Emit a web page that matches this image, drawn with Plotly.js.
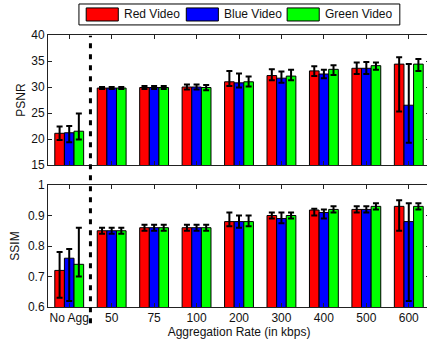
<!DOCTYPE html>
<html>
<head>
<meta charset="utf-8">
<script src="https://cdn.plot.ly/plotly-3.0.1.min.js"></script>
<style>
html,body{margin:0;padding:0;overflow:hidden;background:#fff;}
#chart{width:440px;height:343px;}
</style>
</head>
<body>
<div id="chart"></div>
<script>
// ---- data ----
const categories = ["No Agg", "50", "75", "100", "200", "300", "400", "500", "600"];
const seriesNames = ["Red Video", "Blue Video", "Green Video"];
const seriesColors = ["#ff0000", "#0000ff", "#00ff00"];

// PSNR means and error extents (plus / minus)
const psnrRed       = [21.1, 29.8, 29.9, 30.0, 31.0, 32.2, 33.1, 33.6, 34.4];
const psnrRedPlus   = [1.3, 0.2, 0.3, 0.5, 2.1, 1.2, 0.9, 1.1, 1.3];
const psnrRedMinus  = [1.3, 0.2, 0.3, 0.5, 0.8, 0.9, 1.0, 1.1, 9.1];
const psnrBlue      = [21.2, 29.8, 29.9, 30.0, 30.8, 31.7, 32.5, 33.6, 26.5];
const psnrBluePlus  = [1.3, 0.2, 0.3, 0.5, 1.8, 1.3, 0.8, 1.2, 7.9];
const psnrBlueMinus = [1.8, 0.2, 0.3, 0.5, 0.9, 0.9, 0.8, 1.1, 7.2];
const psnrGreen      = [21.5, 29.8, 29.9, 29.9, 31.0, 32.1, 33.4, 34.1, 34.4];
const psnrGreenPlus  = [3.4, 0.2, 0.3, 0.5, 1.0, 1.2, 0.8, 0.6, 1.0];
const psnrGreenMinus = [1.6, 0.2, 0.3, 0.5, 0.9, 0.8, 1.1, 0.8, 1.3];

// SSIM means and error extents
const ssimRed       = [0.72, 0.85, 0.86, 0.86, 0.88, 0.90, 0.918, 0.92, 0.93];
const ssimRedPlus   = [0.06, 0.01, 0.01, 0.01, 0.03, 0.01, 0.004, 0.01, 0.02];
const ssimRedMinus  = [0.09, 0.01, 0.01, 0.01, 0.015, 0.01, 0.018, 0.01, 0.08];
const ssimBlue      = [0.76, 0.85, 0.86, 0.86, 0.88, 0.89, 0.91, 0.92, 0.88];
const ssimBluePlus  = [0.03, 0.01, 0.01, 0.01, 0.02, 0.02, 0.01, 0.01, 0.06];
const ssimBlueMinus = [0.14, 0.01, 0.01, 0.01, 0.02, 0.015, 0.02, 0.01, 0.26];
const ssimGreen      = [0.74, 0.85, 0.86, 0.86, 0.88, 0.90, 0.92, 0.93, 0.93];
const ssimGreenPlus  = [0.12, 0.01, 0.01, 0.01, 0.02, 0.01, 0.01, 0.01, 0.01];
const ssimGreenMinus = [0.04, 0.01, 0.01, 0.01, 0.015, 0.01, 0.01, 0.01, 0.01];

const psnrTicks = [15, 20, 25, 30, 35, 40];
const ssimTicks = [0.6, 0.7, 0.8, 0.9, 1];

// ---- build traces ----
const psnrSets = [[psnrRed, psnrRedPlus, psnrRedMinus], [psnrBlue, psnrBluePlus, psnrBlueMinus], [psnrGreen, psnrGreenPlus, psnrGreenMinus]];
const ssimSets = [[ssimRed, ssimRedPlus, ssimRedMinus], [ssimBlue, ssimBluePlus, ssimBlueMinus], [ssimGreen, ssimGreenPlus, ssimGreenMinus]];

function barTrace(set, i, xa, ya) {
  return {
    type: "bar", x: categories, y: set[0], name: seriesNames[i],
    xaxis: xa, yaxis: ya, showlegend: false,
    marker: {color: seriesColors[i], line: {color: "#000", width: 1}},
    error_y: {type: "data", symmetric: false, array: set[1], arrayminus: set[2],
              color: "#000", thickness: 2, width: 3},
    hoverinfo: "skip"
  };
}
const data = [];
psnrSets.forEach((s, i) => data.push(barTrace(s, i, "x", "y")));
ssimSets.forEach((s, i) => data.push(barTrace(s, i, "x2", "y2")));

const font = {family: "Liberation Sans, Arial, sans-serif", size: 12, color: "#111"};
const axCommon = {
  showline: true, linecolor: "#222", linewidth: 1, mirror: "ticks",
  ticks: "inside", ticklen: 4, tickcolor: "#222",
  showgrid: false, zeroline: false, tickfont: font
};

// legend drawn as shapes + text (MATLAB-style wide patches)
const legendShapes = [
  {type: "rect", xref: "paper", yref: "paper", x0: 0.081, x1: 0.921, y0: 1.037, y1: 1.114,
   line: {color: "#000", width: 1}, fillcolor: "#fff", layer: "above"}
];
const patchX = [0.1, 0.362, 0.626];
const legendAnn = [];
seriesNames.forEach((n, i) => {
  legendShapes.push({type: "rect", xref: "paper", yref: "paper",
    x0: patchX[i], x1: patchX[i] + 0.084, y0: 1.0515, y1: 1.0995,
    line: {color: "#000", width: 1}, fillcolor: seriesColors[i], layer: "above"});
  legendAnn.push({xref: "paper", yref: "paper", x: patchX[i] + 0.093, y: 1.0755,
    xanchor: "left", yanchor: "middle", text: n, showarrow: false, font: font});
});

// dashed separator between "No Agg" and the aggregation rates
legendShapes.push({type: "line", xref: "x", yref: "paper", x0: 0.5, x1: 0.5, y0: -0.06, y1: 0.997,
  line: {color: "#000", width: 3, dash: "5px,6px"}, layer: "above"});

const layout = {
  width: 440, height: 343,
  margin: {l: 48, r: 10, t: 35, b: 36},
  paper_bgcolor: "#fff", plot_bgcolor: "#fff",
  font: font,
  barmode: "group", bargap: 0.32, bargroupgap: 0,
  showlegend: false,
  xaxis: Object.assign({}, axCommon, {anchor: "y", domain: [0, 1], type: "category",
    range: [-0.5, 8.5], showticklabels: false}),
  yaxis: Object.assign({}, axCommon, {anchor: "x", domain: [0.522, 1], range: [15, 40],
    tickvals: psnrTicks, title: {text: "PSNR", font: font, standoff: 3}}),
  xaxis2: Object.assign({}, axCommon, {anchor: "y2", domain: [0, 1], type: "category",
    range: [-0.5, 8.5], tickvals: categories, title: {text: "Aggregation Rate (in kbps)", font: font, standoff: 2}}),
  yaxis2: Object.assign({}, axCommon, {anchor: "x2", domain: [0, 0.4485], range: [0.6, 1],
    tickvals: ssimTicks, ticktext: ssimTicks.map(v => String(v)),
    title: {text: "SSIM", font: font, standoff: 5}}),
  shapes: legendShapes,
  annotations: legendAnn
};

Plotly.newPlot("chart", data, layout, {displayModeBar: false, staticPlot: true});
</script>
</body>
</html>
